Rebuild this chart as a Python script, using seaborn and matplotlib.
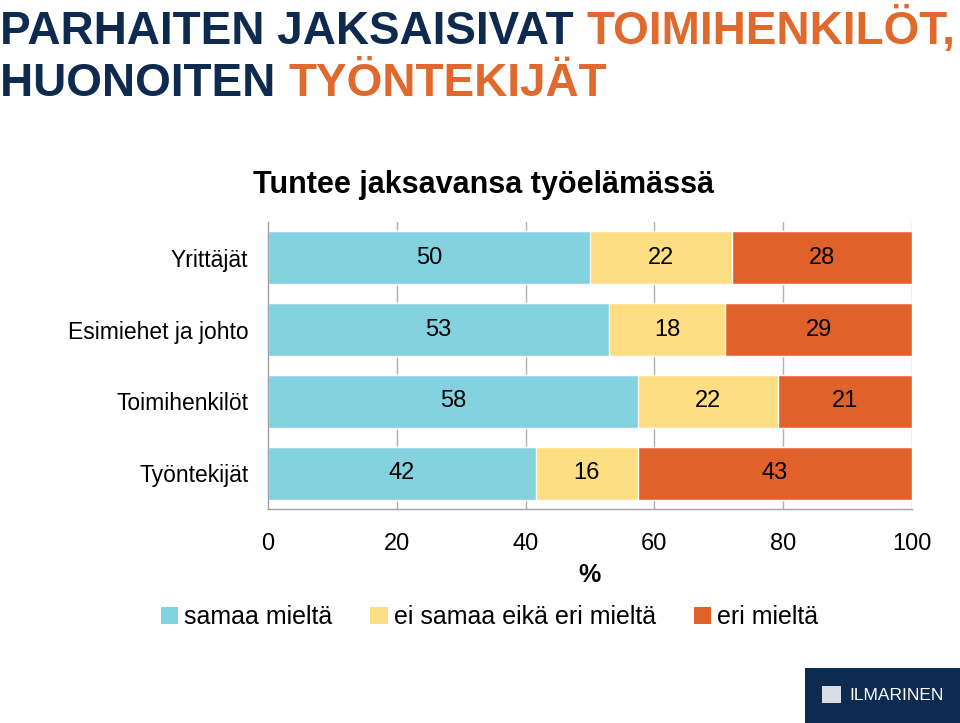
import numpy as np
import pandas as pd
import matplotlib
matplotlib.use("Agg")
from matplotlib import pyplot as plt
from matplotlib.patches import Patch, Rectangle
from matplotlib import font_manager
import seaborn as sns

groups = ["Yrittäjät", "Esimiehet ja johto", "Toimihenkilöt", "Työntekijät"]
samaa = [50, 53, 58, 42]
neutraali = [22, 18, 22, 16]
eri = [28, 29, 21, 43]
series_names = ["samaa mieltä", "ei samaa eikä eri mieltä", "eri mieltä"]
colors = ["#84D1E0", "#FDDE82", "#E0622A"]
x_ticks = [0, 20, 40, 60, 80, 100]

NAVY = "#0E2A4F"
ORANGE = "#E0692D"

sns.set_style("white")
plt.rcParams["font.family"] = ["Liberation Sans", "DejaVu Sans"]
plt.rcParams["text.color"] = "black"
plt.rcParams["axes.labelcolor"] = "black"

names = {f.name for f in font_manager.fontManager.ttflist}
title_font = "Liberation Sans Narrow" if "Liberation Sans Narrow" in names else "Liberation Sans"

df = pd.DataFrame({"group": groups, "s1": samaa, "s2": neutraali, "s3": eri})
tot = df[["s1", "s2", "s3"]].sum(axis=1)
# normalised to 100 % like the original stacked chart
for c in ["s1", "s2", "s3"]:
    df[c + "_p"] = df[c] / tot * 100
df["c1"] = df["s1_p"]
df["c2"] = df["s1_p"] + df["s2_p"]
df["c3"] = df["c2"] + df["s3_p"]

fig = plt.figure(figsize=(9.6, 7.23), dpi=100)
ax = fig.add_axes([0.279, 0.296, 0.671, 0.397])

ax.set_axisbelow(True)
for xv in x_ticks[1:]:
    ax.axvline(xv, color="#B0B0B0", lw=1, zorder=0)

# overlay cumulative bars, widest first
for col, color in zip(["c3", "c2", "c1"], colors[::-1]):
    sns.barplot(data=df, x=col, y="group", color=color, width=0.74,
                saturation=1, orient="h", ax=ax, zorder=2)

for i, row in df.iterrows():
    starts = [0, row["c1"], row["c2"]]
    widths = [row["s1_p"], row["s2_p"], row["s3_p"]]
    vals = [row["s1"], row["s2"], row["s3"]]
    for s, w, v in zip(starts, widths, vals):
        ax.text(s + w / 2, i, str(v), ha="center", va="center",
                fontsize=17, color="black", zorder=3)

ax.set_xlim(0, 100)
ax.set_ylim(3.5, -0.5)
ax.set_xticks(x_ticks)
ax.set_xticklabels([str(t) for t in x_ticks], fontsize=17)
ax.set_yticks(range(len(groups)))
ax.set_yticklabels(groups, fontsize=16.5)
ax.set_yticks(np.arange(-0.5, len(groups), 1), minor=True)
ax.tick_params(axis="y", which="major", length=0, pad=14, labelcolor="black")
ax.tick_params(axis="y", which="minor", length=7, color="#A0A0A0", direction="out")
ax.tick_params(axis="x", length=6, color="#A0A0A0", pad=11, direction="out", labelcolor="black")
ax.set_xlabel("%", fontsize=18, fontweight="bold", labelpad=6)
ax.set_ylabel("")
sns.despine(ax=ax, top=True, right=True)
for sp in ["left", "bottom"]:
    ax.spines[sp].set_color("#A0A0A0")
    ax.spines[sp].set_linewidth(1)

# title in two colours
fig.canvas.draw()
r = fig.canvas.get_renderer()
def two_tone(y, a, b):
    t = fig.text(0.0, y, a, fontsize=33, fontweight="bold", color=NAVY,
                 family=title_font, va="baseline", ha="left")
    bb = t.get_window_extent(renderer=r)
    fig.text(bb.x1 / fig.bbox.width, y, b, fontsize=33, fontweight="bold",
             color=ORANGE, family=title_font, va="baseline", ha="left")
two_tone(1 - 44 / 723, "PARHAITEN JAKSAISIVAT ", "TOIMIHENKILÖT,")
two_tone(1 - 96 / 723, "HUONOITEN ", "TYÖNTEKIJÄT")

fig.text(0.504, 1 - 193 / 723, "Tuntee jaksavansa työelämässä", fontsize=22,
         fontweight="bold", ha="center", va="baseline")

handles = [Patch(facecolor=c, edgecolor="none") for c in colors]
fig.legend(handles, series_names, loc="center", bbox_to_anchor=(0.51, 1 - 617 / 723),
           ncol=3, frameon=False, fontsize=18, handlelength=0.7, handleheight=0.7,
           handletextpad=0.25, columnspacing=1.5)

# logo box
fig.patches.append(Rectangle((805 / 960, 0), 155 / 960, 55 / 723, transform=fig.transFigure,
                             facecolor="#0D2A50", edgecolor="none"))
fig.patches.append(Rectangle((822 / 960, 20 / 723), 19 / 960, 17 / 723, transform=fig.transFigure,
                             facecolor="#D9DDE3", edgecolor="none"))
fig.text(897 / 960, 28 / 723, "ILMARINEN", color="white", fontsize=12.5,
         family=title_font, ha="center", va="center")

fig.savefig("out.png", dpi=100)
